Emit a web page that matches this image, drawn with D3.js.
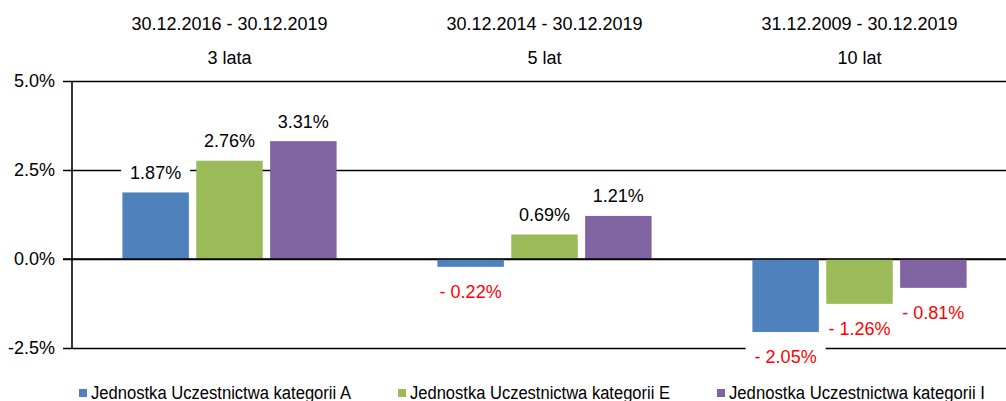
<!DOCTYPE html>
<html>
<head>
<meta charset="utf-8">
<script src="https://cdn.jsdelivr.net/npm/d3@7"></script>
<style>
  body { margin: 0; background: #fff; }
  svg { display: block; font-family: "Liberation Sans", Arial, sans-serif; }
</style>
</head>
<body>
<div id="chart"></div>
<script>
// periods (groups)
const periods = ["30.12.2016 - 30.12.2019", "30.12.2014 - 30.12.2019", "31.12.2009 - 30.12.2019"];
const periodNames = ["3 lata", "5 lat", "10 lat"];

// series
const seriesNames = [
    "Jednostka Uczestnictwa kategorii A",
    "Jednostka Uczestnictwa kategorii E",
    "Jednostka Uczestnictwa kategorii I"
];
const valuesA = [1.87, -0.22, -2.05];
const valuesE = [2.76, 0.69, -1.26];
const valuesI = [3.31, 1.21, -0.81];
const seriesColors = ["#4F81BD", "#9BBB59", "#8064A2"];

const yTicks = [-2.5, 0, 2.5, 5];

const width = 1006;
const height = 401;
const axisX = 72;

const svg = d3.select("#chart").append("svg")
    .attr("width", width)
    .attr("height", height);

const yScale = d3.scaleLinear()
    .domain([-2.5, 5])
    .range([348, 81]);

// group scale (the plot runs past the right edge of the picture)
const x0 = d3.scaleBand()
    .domain(periods)
    .range([axisX, 1017])
    .paddingInner(0.32)
    .paddingOuter(0.16);

const x1 = d3.scaleBand()
    .domain(seriesNames)
    .range([0, x0.bandwidth()])
    .paddingInner(0.1);

const allValues = [valuesA, valuesE, valuesI];
const bars = [];
periods.forEach((p, i) => {
    seriesNames.forEach((s, j) => {
        bars.push({period: p, series: s, value: allValues[j][i], color: seriesColors[j]});
    });
});

// y axis with grid lines
const yAxis = d3.axisLeft(yScale)
    .tickValues(yTicks)
    .tickFormat(d => d.toFixed(1) + "%")
    .tickSizeInner(-(width - axisX))
    .tickSizeOuter(0)
    .tickPadding(17);

const axisG = svg.append("g")
    .attr("class", "yAxis")
    .attr("transform", `translate(${axisX},0)`)
    .call(yAxis);

axisG.select(".domain").remove();
axisG.selectAll(".tick line")
    .attr("x1", -9)
    .attr("stroke", "#000")
    .attr("stroke-width", 1.6);
axisG.selectAll(".tick text")
    .attr("font-size", 18)
    .attr("fill", "#000")
    .attr("font-family", "Liberation Sans, Arial, sans-serif");

// bars
svg.append("g")
    .selectAll("rect")
    .data(bars)
    .enter()
    .append("rect")
    .attr("x", d => x0(d.period) + x1(d.series))
    .attr("y", d => yScale(Math.max(0, d.value)))
    .attr("width", x1.bandwidth())
    .attr("height", d => Math.abs(yScale(d.value) - yScale(0)))
    .attr("fill", d => d.color);

// zero line on top of the bars
svg.append("line")
    .attr("x1", axisX - 9)
    .attr("x2", width)
    .attr("y1", yScale(0))
    .attr("y2", yScale(0))
    .attr("stroke", "#000")
    .attr("stroke-width", 1.6);

// vertical axis line
svg.append("line")
    .attr("x1", axisX)
    .attr("x2", axisX)
    .attr("y1", yScale(5))
    .attr("y2", yScale(-2.5))
    .attr("stroke", "#000")
    .attr("stroke-width", 1.6);

// value labels with white background
const labelG = svg.append("g")
    .selectAll("g")
    .data(bars)
    .enter()
    .append("g");

labelG.append("rect")
    .attr("fill", "#fff");

labelG.append("text")
    .attr("text-anchor", "middle")
    .attr("font-size", 18)
    .attr("x", d => x0(d.period) + x1(d.series) + x1.bandwidth() / 2)
    .attr("y", d => d.value >= 0 ? yScale(d.value) - 13.5 : yScale(d.value) + 31)
    .attr("fill", d => d.value >= 0 ? "#000" : "#FF0000")
    .text(d => d.value >= 0 ? d.value.toFixed(2) + "%" : "- " + Math.abs(d.value).toFixed(2) + "%");

labelG.each(function() {
    const g = d3.select(this);
    const b = g.select("text").node().getBBox();
    g.select("rect")
        .attr("x", b.x - 9)
        .attr("y", b.y)
        .attr("width", b.width + 18)
        .attr("height", b.height);
});

// period headers
svg.append("g")
    .selectAll("text")
    .data(periods)
    .enter()
    .append("text")
    .attr("text-anchor", "middle")
    .attr("font-size", 18)
    .attr("x", d => x0(d) + x0.bandwidth() / 2)
    .attr("y", 30)
    .text(d => d);

svg.append("g")
    .selectAll("text")
    .data(periodNames)
    .enter()
    .append("text")
    .attr("text-anchor", "middle")
    .attr("font-size", 18)
    .attr("x", (d, i) => x0(periods[i]) + x0.bandwidth() / 2)
    .attr("y", 64)
    .text(d => d);

// legend (cut at the bottom edge, as in the source)
const legend = svg.append("g")
    .selectAll("g")
    .data(seriesNames)
    .enter()
    .append("g")
    .attr("transform", (d, i) => `translate(${79 + i * 319},389)`);

legend.append("rect")
    .attr("width", 8)
    .attr("height", 8)
    .attr("fill", (d, i) => seriesColors[i]);

legend.append("text")
    .attr("x", 12)
    .attr("y", 10)
    .attr("font-size", 18)
    .attr("textLength", (d, i) => i === 2 ? 256 : 260)
    .attr("lengthAdjust", "spacingAndGlyphs")
    .text(d => d);
</script>
</body>
</html>
